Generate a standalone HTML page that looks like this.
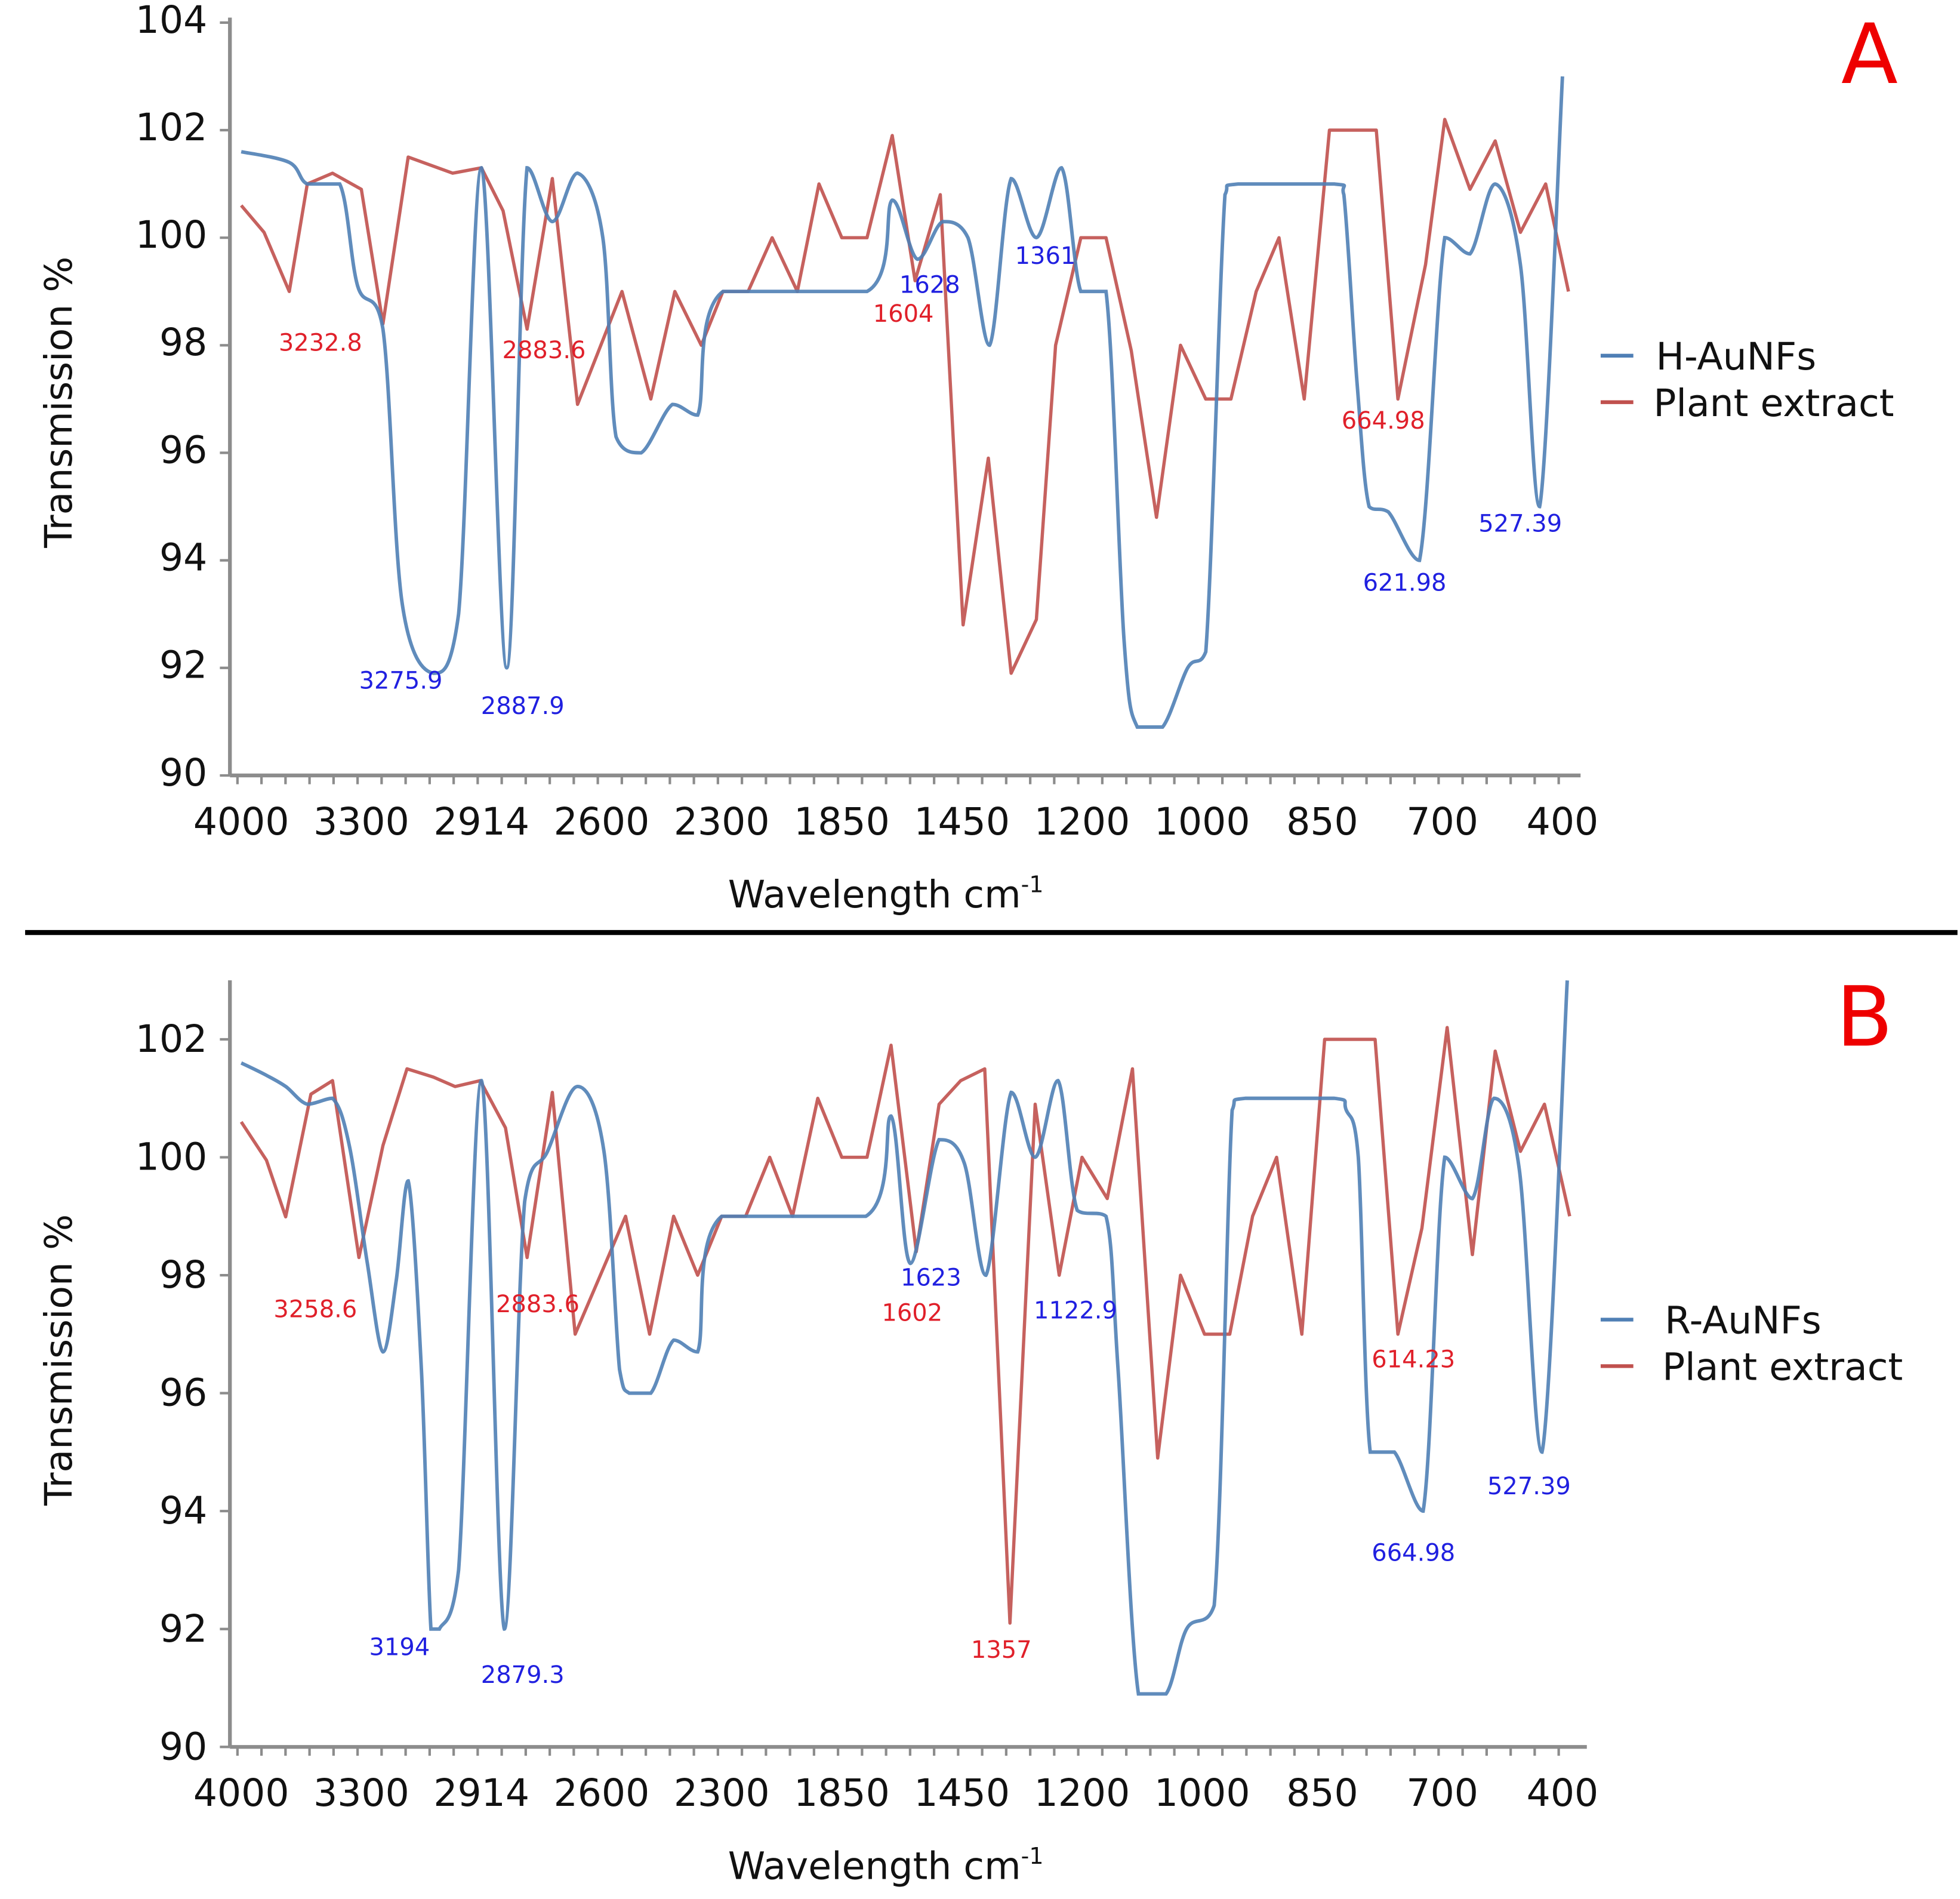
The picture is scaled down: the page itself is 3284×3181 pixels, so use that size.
<!DOCTYPE html>
<html><head><meta charset="utf-8"><style>
html,body{margin:0;padding:0;background:#fff;}
svg{display:block;}
text{font-family:"DejaVu Sans","Liberation Sans",sans-serif;}
</style></head><body>
<svg id="fig" xmlns="http://www.w3.org/2000/svg" width="3284" height="3181" viewBox="0 0 1560 1511" preserveAspectRatio="none">
<rect x="0" y="0" width="1560" height="1511" fill="#fff"/>
<line x1="20" y1="742" x2="1558" y2="742" stroke="#000" stroke-width="4"/>
</svg>
<script>
const categories = ["4000","3300","2914","2600","2300","1850","1450","1200","1000","850","700","400"];
const yTicksA = [90,92,94,96,98,100,102,104];
const yTicksB = [90,92,94,96,98,100,102];

const aBlueX = [0,0.4,0.55,0.82,0.97,1.18,1.34,1.6,1.81,2.0,2.21,2.38,2.59,2.8,3.01,3.12,3.33,3.59,3.8,4.01,5.21,5.42,5.63,5.84,6.05,6.23,6.41,6.62,6.83,6.99,7.2,7.35,7.46,7.67,7.88,8.03,8.19,8.3,9.1,9.18,9.29,9.39,9.55,9.81,10.02,10.23,10.44,10.65,10.81,11.0];
const aBlueY = [101.6,101.4,101.0,101.0,99.1,98.3,93.2,91.9,93.0,101.3,92.0,101.3,100.3,101.2,100.0,96.3,96.0,96.9,96.7,99.0,99.0,100.7,99.6,100.3,100.0,98.0,101.1,100.0,101.3,99.0,99.0,92.5,90.9,90.9,92.0,92.3,100.8,101.0,101.0,100.8,97.3,95.0,94.9,94.0,100.0,99.7,101.0,99.5,95.0,103.0];
const aRedX = [0,0.19,0.40,0.55,0.76,1.0,1.18,1.39,1.76,2.0,2.18,2.38,2.59,2.80,3.17,3.41,3.61,3.83,4.01,4.22,4.42,4.63,4.81,5.0,5.21,5.42,5.61,5.82,6.01,6.22,6.41,6.62,6.78,6.99,7.20,7.41,7.62,7.82,8.03,8.24,8.45,8.64,8.85,9.06,9.45,9.63,9.86,10.02,10.23,10.44,10.65,10.86,11.05];
const aRedY = [100.6,100.1,99.0,101.0,101.2,100.9,98.4,101.5,101.2,101.3,100.5,98.3,101.1,96.9,99.0,97.0,99.0,98.0,99.0,99.0,100.0,99.0,101.0,100.0,100.0,101.9,99.2,100.8,92.8,95.9,91.9,92.9,98.0,100.0,100.0,97.9,94.8,98.0,97.0,97.0,99.0,100.0,97.0,102.0,102.0,97.0,99.5,102.2,100.9,101.8,100.1,101.0,99.0];

const bBlueX = [0,0.2,0.37,0.55,0.76,0.9,1.05,1.18,1.29,1.39,1.5,1.58,1.65,1.81,2.0,2.19,2.36,2.55,2.8,3.02,3.15,3.23,3.41,3.6,3.8,4.0,5.2,5.41,5.57,5.81,6.02,6.2,6.41,6.61,6.8,6.96,7.2,7.3,7.47,7.7,7.87,8.1,8.25,8.36,9.1,9.2,9.3,9.4,9.6,9.84,10.02,10.25,10.43,10.64,10.83,11.04];
const bBlueY = [101.6,101.4,101.2,100.9,101.0,100.2,98.2,96.7,97.9,99.6,96.4,92.0,92.0,93.0,101.3,92.0,99.25,100.1,101.2,100.1,96.4,96.0,96.0,96.9,96.7,99.0,99.0,100.7,98.2,100.3,99.9,98.0,101.1,100.0,101.3,99.1,99.0,96.4,90.9,90.9,92.0,92.4,100.8,101.0,101.0,100.8,100.0,95.0,95.0,94.0,100.0,99.3,101.0,99.8,95.0,103.0];
const bRedX = [0,0.21,0.37,0.58,0.76,0.98,1.18,1.38,1.6,1.78,1.99,2.2,2.38,2.59,2.78,3.2,3.4,3.6,3.8,4.0,4.2,4.4,4.59,4.8,5.0,5.21,5.41,5.62,5.81,5.99,6.19,6.4,6.61,6.81,7.0,7.21,7.42,7.63,7.82,8.02,8.23,8.42,8.62,8.83,9.02,9.44,9.63,9.83,10.04,10.25,10.44,10.65,10.85,11.06];
const bRedY = [100.6,99.95,98.99,101.07,101.3,98.3,100.2,101.5,101.36,101.2,101.3,100.5,98.3,101.1,97.0,99.0,97.0,99.0,98.0,99.0,99.0,100.0,99.0,101.0,100.0,100.0,101.9,98.4,100.9,101.3,101.5,92.1,100.9,98.0,100.0,99.3,101.5,94.9,98.0,97.0,97.0,99.0,100.0,97.0,102.0,102.0,97.0,98.8,102.2,98.35,101.8,100.1,100.9,99.0];

const annotA = [["3232.8",255,272,"r"],["2883.6",433,278,"r"],["1604",719,249,"r"],["1628",740,226,"b"],["1361",832,203,"b"],["664.98",1101,334,"r"],["3275.9",319,541,"b"],["2887.9",416,561,"b"],["621.98",1118,463,"b"],["527.39",1210,416,"b"]];
const annotB = [["3258.6",251,1041,"r"],["2883.6",428,1037,"r"],["1623",741,1016,"b"],["1602",726,1044,"r"],["1122.9",856,1042,"b"],["1357",797,1312,"r"],["614.23",1125,1081,"r"],["3194",318,1310,"b"],["2879.3",416,1332,"b"],["664.98",1125,1235,"b"],["527.39",1217,1182,"b"]];

const NS = "http://www.w3.org/2000/svg";
const svg = document.getElementById("fig");
function mk(tag, attrs, parent){ const e=document.createElementNS(NS,tag); for(const k in attrs) e.setAttribute(k,attrs[k]); (parent||svg).appendChild(e); return e; }

function clamp(v,a,b){const lo=Math.min(a,b),hi=Math.max(a,b);return Math.max(lo,Math.min(hi,v));}
function smoothPath(pts){
  let d="M"+pts[0][0].toFixed(1)+","+pts[0][1].toFixed(1);
  for(let i=0;i<pts.length-1;i++){
    const p0=pts[Math.max(0,i-1)],p1=pts[i],p2=pts[i+1],p3=pts[Math.min(pts.length-1,i+2)];
    const c1x=p1[0]+(p2[0]-p0[0])/6, c1y=clamp(p1[1]+(p2[1]-p0[1])/6,p1[1],p2[1]);
    const c2x=p2[0]-(p3[0]-p1[0])/6, c2y=clamp(p2[1]-(p3[1]-p1[1])/6,p1[1],p2[1]);
    d+=" C"+c1x.toFixed(1)+","+c1y.toFixed(1)+" "+c2x.toFixed(1)+","+c2y.toFixed(1)+" "+p2[0].toFixed(1)+","+p2[1].toFixed(1);
  }
  return d;
}

function panel(p){
  const g=mk("g",{});
  
  
  const x0=192, step=95.6;
  const xs=i=>x0+step*i;
  const ys=v=>p.yBot-(v-90)*(p.yBot-p.yTop)/(p.vTop-90);
  const ya=mk("line",{x1:183,y1:p.axisTop,x2:183,y2:p.yBot,stroke:"#8c8c8c","stroke-width":3},g);
  
  
  const xa=mk("line",{x1:183,y1:p.yBot,x2:p.xEnd,y2:p.yBot,stroke:"#8c8c8c","stroke-width":3},g);
  
  
  for(let k=0;k<=11*5;k++){
    const x=xs(0)+k*step/5 - 3;
    if(x>p.xEnd) break;
    mk("line",{x1:x,y1:p.yBot,x2:x,y2:p.yBot+7,stroke:"#8c8c8c","stroke-width":2},g);
  }
  p.yTicks.forEach(v=>{
    const y=ys(v);
    mk("line",{x1:175,y1:y,x2:183,y2:y,stroke:"#8c8c8c","stroke-width":2},g);
    const t=mk("text",{x:165,y:y+p.labOff,"text-anchor":"end","font-size":30,fill:"#111"},g);
    
    
    t.textContent=v;
  });
  categories.forEach((c,i)=>{
    const t=mk("text",{x:xs(i),y:p.yBot+47,"text-anchor":"middle","font-size":30,fill:"#111"},g);
    
    
    t.textContent=c;
  });
  const xt=mk("text",{x:705,y:p.yBot+105,"text-anchor":"middle","font-size":30,fill:"#111"},g);
  
  
  xt.innerHTML='Wavelength cm<tspan dy="-12" font-size="18">-1</tspan>';
  const yt=mk("text",{x:0,y:0,"text-anchor":"middle","font-size":30,fill:"#111",transform:"translate(57,"+p.yTitle+") rotate(-90)"},g);
  
  
  yt.textContent="Transmission %";
  const redPts=p.redX.map((x,i)=>[xs(x),ys(p.redY[i])]);
  const red=mk("polyline",{points:redPts.map(q=>q.join(",")).join(" "),fill:"none",stroke:"#c0504d","stroke-width":2.6,"stroke-linejoin":"round","stroke-opacity":0.9},g);
  
  
  const bluePts=p.blueX.map((x,i)=>[xs(x),ys(p.blueY[i])]);
  const blue=mk("path",{d:smoothPath(bluePts),fill:"none",stroke:"#4f7fb5","stroke-width":2.8,"stroke-opacity":0.9},g);
  
  
  p.annot.forEach(a=>{
    const t=mk("text",{x:a[1],y:a[2]+7,"text-anchor":"middle","font-size":19,fill:a[3]==="r"?"#e0202a":"#2020e0"},g);
    
    
    t.textContent=a[0];
  });
  const l1=mk("line",{x1:1274,y1:p.legY,x2:1300,y2:p.legY,stroke:"#4f7fb5","stroke-width":3},g);
  
  
  const t1=mk("text",{x:p.legX,y:p.legY+11,"font-size":30,fill:"#111"},g);
  
  
  t1.textContent=p.blueLabel;
  const l2=mk("line",{x1:1274,y1:p.legY+37,x2:1300,y2:p.legY+37,stroke:"#c0504d","stroke-width":3},g);
  
  
  const t2=mk("text",{x:p.legX-2,y:p.legY+48,"font-size":30,fill:"#111"},g);
  
  
  t2.textContent="Plant extract";
  const pl=mk("text",{x:p.letterX,y:p.letterY,"text-anchor":"middle","font-size":66,fill:"#ee0000","font-family":"Liberation Sans, sans-serif"},g);
  
  
  pl.textContent=p.letter;
}

panel({name:"panel-a",yTop:18,yBot:617,vTop:104,axisTop:14,xEnd:1258,yTicks:yTicksA,labOff:8,yTitle:320,
  redX:aRedX,redY:aRedY,blueX:aBlueX,blueY:aBlueY,blueName:"h-aunfs",blueLabel:"H-AuNFs",annot:annotA,
  legX:1318,legY:283,letter:"A",letterX:1488,letterY:66});
panel({name:"panel-b",yTop:827,yBot:1390,vTop:102,axisTop:780,xEnd:1263,yTicks:yTicksB,labOff:10,yTitle:1082,
  redX:bRedX,redY:bRedY,blueX:bBlueX,blueY:bBlueY,blueName:"r-aunfs",blueLabel:"R-AuNFs",annot:annotB,
  legX:1325,legY:1050,letter:"B",letterX:1484,letterY:832});
</script>
</body></html>
